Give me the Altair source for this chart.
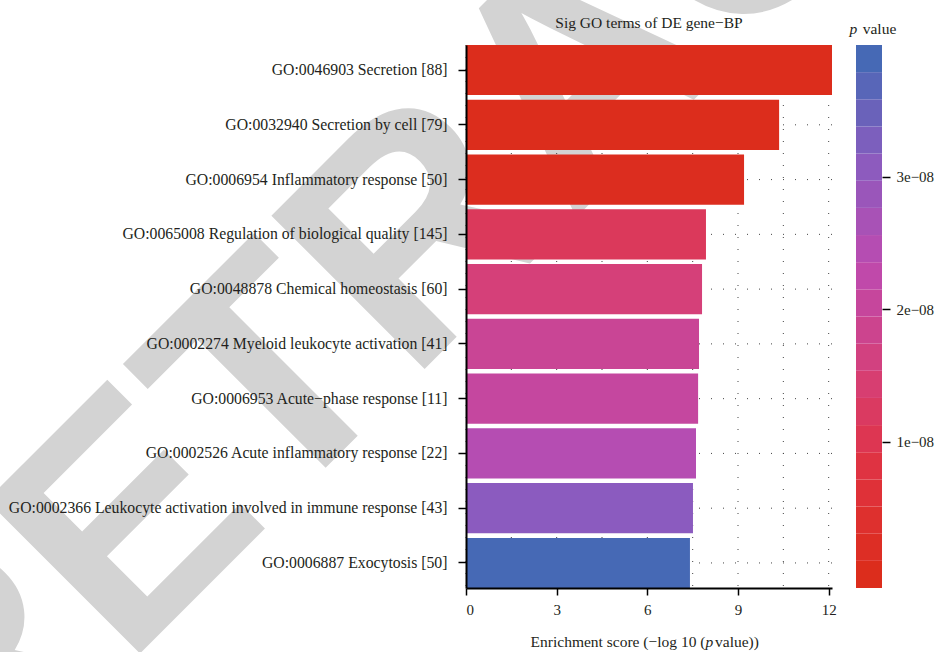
import altair as alt
import pandas as pd

# GO biological-process terms (top to bottom) and their enrichment scores (-log10 p)
terms = [
    "GO:0046903 Secretion [88]",
    "GO:0032940 Secretion by cell [79]",
    "GO:0006954 Inflammatory response [50]",
    "GO:0065008 Regulation of biological quality [145]",
    "GO:0048878 Chemical homeostasis [60]",
    "GO:0002274 Myeloid leukocyte activation [41]",
    "GO:0006953 Acute\u2212phase response [11]",
    "GO:0002526 Acute inflammatory response [22]",
    "GO:0002366 Leukocyte activation involved in immune response [43]",
    "GO:0006887 Exocytosis [50]",
]
scores = [12.11, 10.36, 9.20, 7.94, 7.81, 7.71, 7.68, 7.61, 7.51, 7.41]

x_ticks = [0, 3, 6, 9, 12]
x_grid = [0, 1.5, 3, 4.5, 6, 7.5, 9, 10.5, 12]
p_ticks = [1e-8, 2e-8, 3e-8]
palette = ["#DC2D1C", "#E0323F", "#D5407A", "#BD4AB0", "#8A5CBF", "#4669B5"]

SERIF = "Liberation Serif"
TXT = "#231f20"
W, H = 366, 543

df = pd.DataFrame({"term": terms, "score": scores})

# colour-bar steps spanning the p-value range (20 bins, ends at bin centres)
p_min = 10 ** -max(scores)
p_max = 10 ** -min(scores)
n_bins = 20
step = (p_max - p_min) / (n_bins - 1)
bins = pd.DataFrame({"p": [p_min + i * step for i in range(n_bins)]})
bins["lo"] = bins["p"] - step / 2
bins["hi"] = bins["p"] + step / 2

fill = alt.Fill(
    "p:Q",
    scale=alt.Scale(domain=[p_min, p_max], range=palette, interpolate="rgb"),
    legend=None,
)

x_axis = alt.Axis(
    values=x_ticks, format="d", title=None, grid=False, zindex=1,
    labelFont=SERIF, labelFontSize=15, labelColor=TXT, labelPadding=7,
    tickColor="black", tickSize=7, tickWidth=1.5,
    domainColor="black", domainWidth=2,
)
x_enc = alt.X("score:Q", scale=alt.Scale(nice=False, zero=True), axis=x_axis)

y_axis = alt.Axis(
    title=None, grid=False, zindex=1, labelLimit=700,
    labelFont=SERIF, labelFontSize=15.75, labelColor=TXT, labelPadding=11,
    tickColor="black", tickSize=8, tickWidth=1.5,
    domainColor="black", domainWidth=2,
)
y_enc = alt.Y("term:N", sort=terms,
              scale=alt.Scale(paddingInner=0.085, paddingOuter=0), axis=y_axis)

dots = dict(color="#444444", strokeWidth=1, strokeDash=[1, 11])

vgrid = alt.Chart(pd.DataFrame({"score": x_grid})).mark_rule(**dots).encode(x=x_enc)
hgrid = alt.Chart(df).mark_rule(**dots).encode(y=y_enc)
bars = (
    alt.Chart(df)
    .transform_calculate(p="pow(10, -datum.score)")
    .mark_bar(opacity=1)
    .encode(x=x_enc, y=y_enc, fill=fill)
)
panel = alt.layer(vgrid, hgrid, bars)

# stepped colour bar to the right of the panel
cbar = alt.Chart(bins).mark_rect().encode(
    x=alt.value(W + 24),
    x2=alt.value(W + 50),
    y=alt.Y(
        "lo:Q",
        scale=alt.Scale(domain=[bins["lo"].iloc[0], bins["hi"].iloc[-1]], nice=False, zero=False),
        axis=alt.Axis(
            orient="right", offset=50, values=p_ticks, title=None, grid=False,
            domain=False, zindex=1,
            labelExpr="format(datum.value * 1e8, '.0f') + 'e\u221208'",
            labelFont=SERIF, labelFontSize=15, labelColor=TXT, labelPadding=6,
            tickColor="black", tickSize=8, tickWidth=1.5,
        ),
    ),
    y2="hi:Q",
    fill=fill,
)


def text(t, x, y, **kw):
    style = dict(font=SERIF, fontSize=15.5, color=TXT, baseline="alphabetic")
    style.update(kw)
    return alt.Chart(alt.Data(values=[{}])).mark_text(text=t, **style).encode(
        x=alt.value(x), y=alt.value(y)
    )


stamp = text("RETRACTED", 185, 97.5, font="Liberation Sans", fontWeight="bold",
             fontSize=315, angle=315, color="#D3D3D3", align="center")

title = text("Sig GO terms of DE gene\u2212BP", W / 2, -16.7, align="center")
leg_p = text("p", 383.5, -11.5, align="left", fontStyle="italic")
leg_v = text("value", 396.7, -11.5, align="left")
xt1 = text("Enrichment score (\u2212log 10 (", 239.5, 601.7, align="right")
xt2 = text("p", 239.5, 601.7, align="left", fontStyle="italic")
xt3 = text("value))", 249, 601.7, align="left")

chart = (
    alt.layer(stamp, panel, cbar, title, leg_p, leg_v, xt1, xt2, xt3)
    .resolve_scale(y="independent")
    .properties(
        width=W, height=H,
        padding={"left": 466, "top": 45, "right": 107, "bottom": 64},
        autosize=alt.AutoSizeParams(type="none"),
        background="white",
    )
    .configure_view(stroke=None)
)

chart.save("out.html", embed_options={"renderer": "svg", "actions": False})
